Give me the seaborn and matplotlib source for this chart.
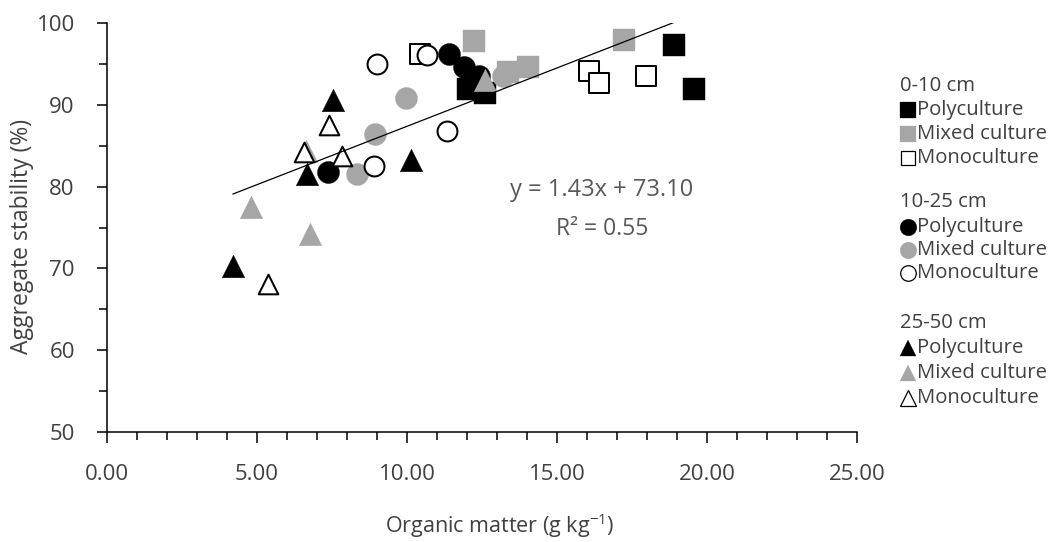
import numpy as np
import pandas as pd
import matplotlib
matplotlib.use("Agg")
import matplotlib.pyplot as plt
from matplotlib.lines import Line2D
from matplotlib.ticker import MultipleLocator, FormatStrFormatter
import seaborn as sns

# Organic matter (g/kg) and aggregate stability (%) by soil depth and cropping system
om_0_10_poly = [12.02, 12.58, 18.90, 19.55]
as_0_10_poly = [91.9, 91.5, 97.3, 91.9]
om_0_10_mixed = [12.24, 13.35, 14.04, 17.21]
as_0_10_mixed = [97.8, 94.0, 94.65, 97.9]
om_0_10_mono = [10.41, 16.05, 16.38, 17.97]
as_0_10_mono = [96.3, 94.2, 92.7, 93.5]

om_10_25_poly = [7.35, 11.38, 11.88, 12.38]
as_10_25_poly = [81.8, 96.3, 94.6, 93.55]
om_10_25_mixed = [8.32, 8.93, 9.96, 13.19]
as_10_25_mixed = [81.6, 86.5, 90.9, 93.5]
om_10_25_mono = [8.88, 8.99, 10.67, 11.31]
as_10_25_mono = [82.5, 95.0, 96.1, 86.85]

om_25_50_poly = [4.19, 6.65, 7.54, 10.11]
as_25_50_poly = [70.3, 81.6, 90.65, 83.3]
om_25_50_mixed = [4.80, 6.62, 6.76, 12.60]
as_25_50_mixed = [77.55, 84.4, 74.2, 93.0]
om_25_50_mono = [5.37, 6.56, 7.39, 7.84]
as_25_50_mono = [68.1, 84.25, 87.5, 83.8]

depths = ["0-10 cm", "10-25 cm", "25-50 cm"]
cultures = ["Polyculture", "Mixed culture", "Monoculture"]

# Linear trend reported for the pooled data
slope = 1.43
intercept = 73.10
r_squared = 0.55

series = {
    ("0-10 cm", "Polyculture"): (om_0_10_poly, as_0_10_poly),
    ("0-10 cm", "Mixed culture"): (om_0_10_mixed, as_0_10_mixed),
    ("0-10 cm", "Monoculture"): (om_0_10_mono, as_0_10_mono),
    ("10-25 cm", "Polyculture"): (om_10_25_poly, as_10_25_poly),
    ("10-25 cm", "Mixed culture"): (om_10_25_mixed, as_10_25_mixed),
    ("10-25 cm", "Monoculture"): (om_10_25_mono, as_10_25_mono),
    ("25-50 cm", "Polyculture"): (om_25_50_poly, as_25_50_poly),
    ("25-50 cm", "Mixed culture"): (om_25_50_mixed, as_25_50_mixed),
    ("25-50 cm", "Monoculture"): (om_25_50_mono, as_25_50_mono),
}

rows = []
for (depth, culture), (xs, ys) in series.items():
    for xv, yv in zip(xs, ys):
        rows.append({"depth": depth, "culture": culture, "om": xv, "stab": yv})
df = pd.DataFrame(rows)

sns.set_theme(style="ticks")
plt.rcParams["font.family"] = ["Open Sans", "DejaVu Sans"]
plt.rcParams["mathtext.fontset"] = "custom"
plt.rcParams["mathtext.rm"] = "Open Sans"
plt.rcParams["mathtext.default"] = "regular"

TEXT = "#404040"
GRAY = "#A6A6A6"

depth_marker = {"0-10 cm": "s", "10-25 cm": "o", "25-50 cm": "^"}
culture_face = {"Polyculture": "black", "Mixed culture": GRAY, "Monoculture": "white"}
filled_size = {"s": 262, "o": 250, "^": 262}
open_size = {"s": 215, "o": 205, "^": 200}

W, H = 1053, 542
fig = plt.figure(figsize=(W / 100, H / 100), dpi=100)
ax = fig.add_axes([107 / W, 1 - 431.7 / H, 750.5 / W, 408.4 / H])

z = 3
for depth in depths:
    for culture in cultures:
        sub = df[(df["depth"] == depth) & (df["culture"] == culture)]
        m = depth_marker[depth]
        face = culture_face[culture]
        if culture == "Monoculture":
            sns.scatterplot(data=sub, x="om", y="stab", marker=m, s=open_size[m],
                            color="white", edgecolor="black", linewidth=1.45,
                            ax=ax, legend=False, zorder=z)
        else:
            sns.scatterplot(data=sub, x="om", y="stab", marker=m, s=filled_size[m],
                            color=face, edgecolor=face, linewidth=0.3,
                            ax=ax, legend=False, zorder=z)
        z += 0.1

# Trend line across the observed organic matter range
xfit = np.array([df["om"].min(), df["om"].max()])
ax.plot(xfit, slope * xfit + intercept, color="black", linewidth=0.9, zorder=10)

ax.text(16.49, 79.6, f"y = {slope:.2f}x + {intercept:.2f}", ha="center", va="center",
        fontsize=17, color="#595959")
ax.text(16.49, 74.85, f"R² = {r_squared:.2f}", ha="center", va="center",
        fontsize=16.5, color="#595959")

ax.set_xlim(0, 25)
ax.set_ylim(50, 100)
ax.xaxis.set_major_locator(MultipleLocator(5))
ax.xaxis.set_minor_locator(MultipleLocator(1))
ax.xaxis.set_major_formatter(FormatStrFormatter("%.2f"))
ax.yaxis.set_major_locator(MultipleLocator(10))
ax.yaxis.set_minor_locator(MultipleLocator(5))

for side in ("top", "right"):
    ax.spines[side].set_visible(False)
for side in ("left", "bottom"):
    ax.spines[side].set_linewidth(1.1)
    ax.spines[side].set_color("black")

ax.tick_params(axis="x", which="major", length=8, width=1.1, color="black",
               pad=15, labelsize=16, labelcolor=TEXT)
ax.tick_params(axis="x", which="minor", length=5.8, width=1.1, color="black")
ax.tick_params(axis="y", which="major", length=7.2, width=1.1, color="black",
               pad=16, labelsize=16, labelcolor=TEXT)
ax.tick_params(axis="y", which="minor", length=5.8, width=1.1, color="black")

ax.set_xlabel("Organic matter (g kg$^{-1}$)", fontsize=15.5, color=TEXT)
ax.set_ylabel("Aggregate stability (%)", fontsize=16.5, color=TEXT)
ax.xaxis.set_label_coords(0.523, -0.195)
ax.yaxis.set_label_coords(-0.1133, 0.479)
ax.yaxis.label.set_va("center")

# Grouped legend on the right: depth headers, then one marker per cropping system
legend_rows = {
    "0-10 cm": (86, [110, 134, 158]),
    "10-25 cm": (202, [227, 250, 273]),
    "25-50 cm": (323, [348, 373, 398]),
}
legend_ms = {"s": 11.3, "o": 12.0, "^": 12.0}
for depth in depths:
    head_y, entry_ys = legend_rows[depth]
    fig.text(900 / W, 1 - head_y / H, depth, ha="left", va="center",
             fontsize=14.6, color=TEXT)
    m = depth_marker[depth]
    for culture, ey in zip(cultures, entry_ys):
        face = culture_face[culture]
        if culture == "Monoculture":
            kw = dict(markerfacecolor="white", markeredgecolor="black",
                      markeredgewidth=0.9, markersize=legend_ms[m] - 0.8)
        else:
            kw = dict(markerfacecolor=face, markeredgecolor=face,
                      markeredgewidth=0.2, markersize=legend_ms[m])
        fig.add_artist(Line2D([908 / W], [1 - ey / H], marker=m, linestyle="none",
                              transform=fig.transFigure, **kw))
        fig.text(917 / W, 1 - ey / H, culture, ha="left", va="center",
                 fontsize=14.6, color=TEXT)

fig.savefig("out.png", dpi=100)
